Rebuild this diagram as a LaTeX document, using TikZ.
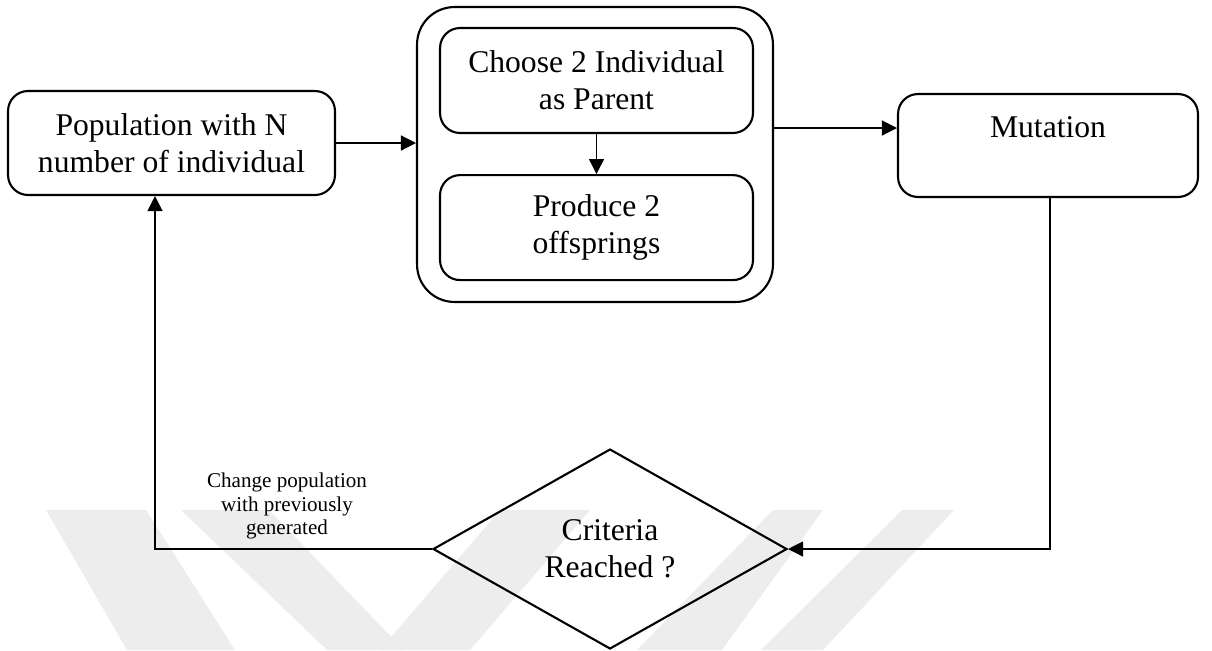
\documentclass[tikz,border=0pt]{standalone}
\usepackage{fontspec}
\setmainfont{Liberation Serif}
\usetikzlibrary{arrows.meta,positioning,shapes.geometric}

\begin{document}
\begin{tikzpicture}[x = 0.02cm, y = -0.02cm,
   box/.style      = {draw, line width=1.2pt, rounded corners=0.4cm, align=center,
                      inner sep=0pt, font=\fontsize{18}{21}\selectfont},
   outerbox/.style = {draw, line width=1.2pt, rounded corners=0.75cm,
                      minimum width=7.12cm, minimum height=5.9cm, inner sep=0pt},
   decision/.style = {diamond, draw, line width=1.2pt, aspect=1.77, align=center,
                      minimum width=7.08cm, minimum height=4cm, inner sep=0pt,
                      font=\fontsize{18}{21}\selectfont},
   note/.style     = {align=center, inner sep=0pt, font=\fontsize{12}{13.4}\selectfont},
   flow/.style     = {-{Triangle[length=0.3cm, width=0.3cm]}, line width=0.7pt}]
   % faint watermark
   \fill[black!7] (46,510) -- (146,510) -- (235,650) -- (127,650) -- cycle;
   \fill[black!7] (181,510) -- (269,510) -- (404,650) -- (327,650) -- cycle;
   \fill[black!7] (380,650) -- (470,650) -- (590,510) -- (500,510) -- cycle;
   \fill[black!7] (773,510) -- (823,510) -- (722,650) -- (637,650) -- cycle;
   \fill[black!7] (902,510) -- (954,510) -- (823,650) -- (761,650) -- cycle;
   % boxes
   \node[box, minimum width=6.54cm, minimum height=2.08cm] (pop) at (171.5,143)
        {Population with N\\number of individual};
   \node[outerbox] (outer) at (595,154.5) {};
   \node[box, minimum width=6.26cm, minimum height=2.1cm] (sel) at (596.5,80.5)
        {Choose 2 Individual\\as Parent};
   \node[box, minimum width=6.26cm, minimum height=2.1cm] (off) [below = 0.8cm of sel]
        {Produce 2\\offsprings};
   \node[box, minimum width=6cm, minimum height=2.06cm] (mut) at (1048,145.5)
        {Mutation\\\phantom{Mutation}};
   \node[decision] (crit) at (610,549) {Criteria\\Reached ?};
   \coordinate (mutin) at ([yshift=0.35cm]mut.west);
   \coordinate (popin) at ([xshift=-0.33cm]pop.south);
   % connectors
   \draw[flow] (pop.east) -- (pop.east -| outer.west);
   \draw[flow] (sel) -- (off);
   \draw[flow] (outer.east |- mutin) -- (mutin);
   \draw[flow] ([xshift=0.04cm]mut.south) |- (crit.east);
   \draw[flow] (crit.west) -| (popin);
   \node[note] (chg) at (287,506) {Change population\\with previously\\generated};
   \useasboundingbox (0,0) rectangle (1212,650);
\end{tikzpicture}
\end{document}
